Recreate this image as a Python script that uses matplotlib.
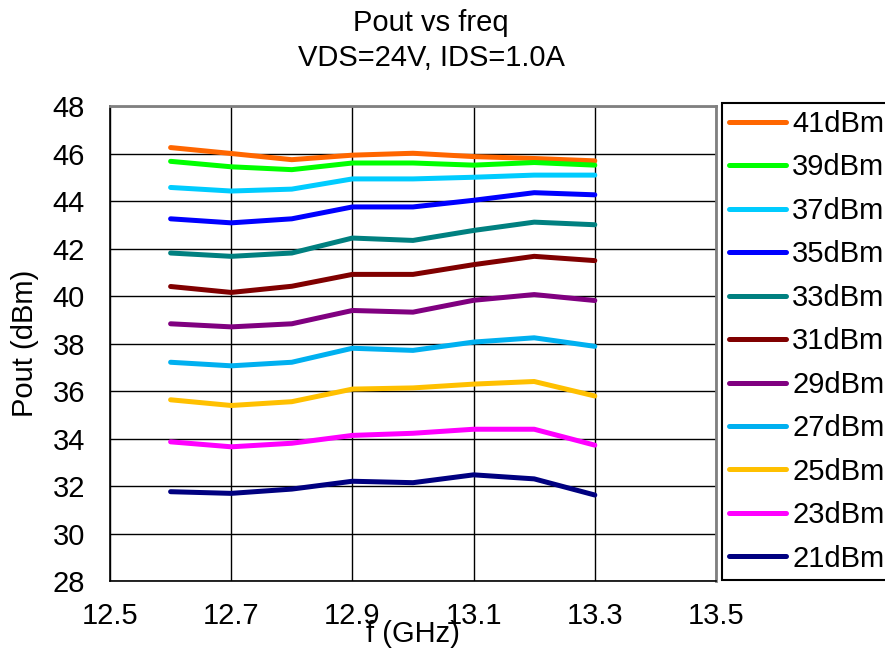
# Pout vs freq, VDS=24V, IDS=1.0A
import numpy as np
import matplotlib
matplotlib.use('Agg')
import matplotlib.pyplot as plt

plt.rcParams['font.family'] = ['Liberation Sans', 'DejaVu Sans']

# Datos
freq = [12.6, 12.7, 12.8, 12.9, 13.0, 13.1, 13.2, 13.3]
pin_labels = ['41dBm', '39dBm', '37dBm', '35dBm', '33dBm', '31dBm',
              '29dBm', '27dBm', '25dBm', '23dBm', '21dBm']
pout_41 = [46.25, 46.00, 45.74, 45.93, 46.01, 45.87, 45.79, 45.69]
pout_39 = [45.67, 45.44, 45.32, 45.60, 45.60, 45.51, 45.62, 45.51]
pout_37 = [44.57, 44.42, 44.50, 44.93, 44.93, 45.00, 45.09, 45.09]
pout_35 = [43.25, 43.08, 43.25, 43.75, 43.75, 44.03, 44.35, 44.26]
pout_33 = [41.81, 41.67, 41.81, 42.44, 42.34, 42.76, 43.11, 43.00]
pout_31 = [40.40, 40.15, 40.41, 40.91, 40.91, 41.32, 41.67, 41.49]
pout_29 = [38.83, 38.70, 38.83, 39.39, 39.32, 39.82, 40.06, 39.81]
pout_27 = [37.21, 37.06, 37.21, 37.80, 37.71, 38.06, 38.24, 37.88]
pout_25 = [35.63, 35.39, 35.55, 36.08, 36.13, 36.29, 36.40, 35.79]
pout_23 = [33.86, 33.65, 33.80, 34.13, 34.22, 34.39, 34.39, 33.72]
pout_21 = [31.76, 31.69, 31.87, 32.20, 32.14, 32.47, 32.30, 31.62]
series = [pout_41, pout_39, pout_37, pout_35, pout_33, pout_31,
          pout_29, pout_27, pout_25, pout_23, pout_21]
colores = ['#FF6600', '#00FF00', '#00CCFF', '#0000FF', '#008080', '#800000',
           '#800080', '#00B0F0', '#FFC000', '#FF00FF', '#000080']

x_ticks = [12.5, 12.7, 12.9, 13.1, 13.3, 13.5]
y_ticks = np.arange(28, 49, 2)

fig = plt.figure(figsize=(8.85, 6.61), dpi=100)
ax = fig.add_axes([110/885, 1-581/661, (716-110)/885, (581-106)/661])

for vals, col, lab in zip(series, colores, pin_labels):
    ax.plot(freq, vals, color=col, lw=3.6, solid_capstyle='round', label=lab)

ax.set_xlim(12.5, 13.5)
ax.set_ylim(28, 48)
ax.set_xticks(x_ticks)
ax.set_xticklabels(['%.1f' % v for v in x_ticks])
ax.set_yticks(y_ticks)
ax.grid(True, color='black', lw=1.0)
ax.set_axisbelow(True)
ax.tick_params(length=0, labelsize=21)
ax.tick_params(axis='y', pad=18)
ax.tick_params(axis='x', pad=15)
for s in ['left', 'bottom']:
    ax.spines[s].set_color('black')
    ax.spines[s].set_linewidth(1.2)
for s in ['top', 'right']:
    ax.spines[s].set_color('#808080')
    ax.spines[s].set_linewidth(2.0)

ax.set_xlabel('f (GHz)', size=21)
ax.xaxis.set_label_coords(0.5, -0.082)
ax.set_ylabel('Pout (dBm)', size=21)
ax.yaxis.set_label_coords(-0.117, 0.5)

fig.text(431/885, 1-9/661, 'Pout vs freq\nVDS=24V, IDS=1.0A', ha='center', va='top',
         size=21, linespacing=1.3)

leg = ax.legend(loc='upper left', bbox_to_anchor=(722/885, 1-102.7/661),
                bbox_transform=fig.transFigure, fontsize=21, frameon=True,
                fancybox=False, framealpha=1, edgecolor='black', borderpad=0.25,
                labelspacing=0.53, handlelength=1.95, handletextpad=0.2,
                borderaxespad=0)
leg.get_frame().set_linewidth(1.5)

fig.savefig('out.png', dpi=100)
